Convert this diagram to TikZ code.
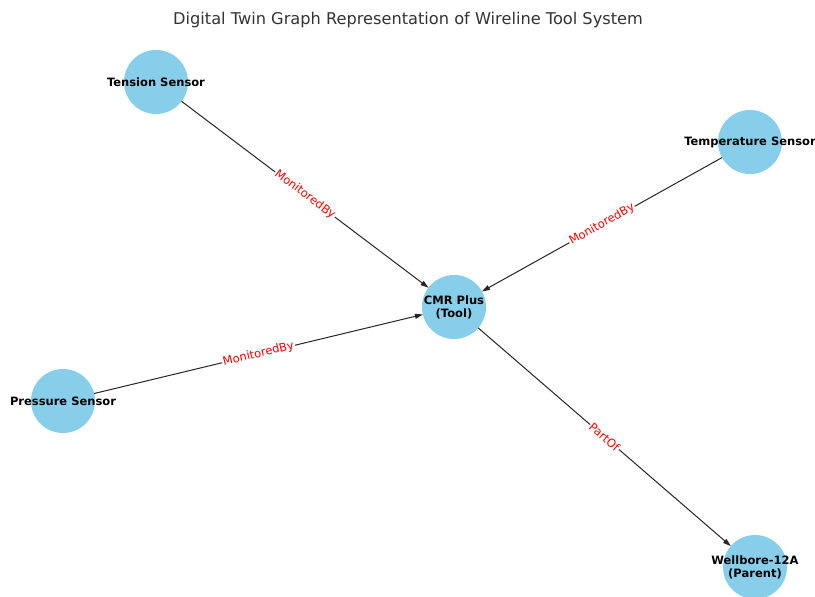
\documentclass[tikz,border=0pt]{standalone}
\usepackage{fontspec}
\setmainfont{DejaVu Sans}
\usetikzlibrary{arrows.meta}
\definecolor{sky}{HTML}{87CEEB}
\definecolor{ttl}{HTML}{333333}
\tikzset{
  dot/.style={circle,fill=sky,minimum size=64pt,inner sep=0pt,outer sep=0pt},
  nlabel/.style={font=\fontsize{11.5}{13}\selectfont\bfseries,align=center,text=black},
  elabel/.style={font=\fontsize{11.5}{13}\selectfont,text=red,fill=white,inner sep=1pt,sloped,pos=0.5},
  edge/.style={draw=black!85,line width=1pt,-{Triangle[length=8pt,width=5pt]}}
}
\begin{document}
\begin{tikzpicture}[x=1pt,y=-1pt]
\useasboundingbox (0,0) rectangle (815,597);
\clip (0,0) rectangle (815,597);
\fill[white] (0,0) rectangle (815,597);
\node[font=\fontsize{16.2}{19}\selectfont,text=ttl] (title) at (408,20) {Digital Twin Graph Representation of Wireline Tool System};
\node[dot] (ten) at (156,82) {};
\node[dot] (tmp) at (750,142) {};
\node[dot] (cmr) at (454,307) {};
\node[dot] (prs) at (63,401) {};
\node[dot] (wel) at (755,567) {};
\draw[edge] (ten) -- node[elabel] {MonitoredBy} (cmr);
\draw[edge] (tmp) -- node[elabel] {MonitoredBy} (cmr);
\draw[edge] (prs) -- node[elabel] {MonitoredBy} (cmr);
\draw[edge] (cmr) -- node[elabel] {PartOf} (wel);
\node[nlabel] (tenl) at (ten) {Tension Sensor};
\node[nlabel] (tmpl) at (tmp) {Temperature Sensor};
\node[nlabel] (cmrl) at (cmr) {CMR Plus\\(Tool)};
\node[nlabel] (prsl) at (prs) {Pressure Sensor};
\node[nlabel] (well) at (wel) {Wellbore-12A\\(Parent)};
\end{tikzpicture}
\end{document}
